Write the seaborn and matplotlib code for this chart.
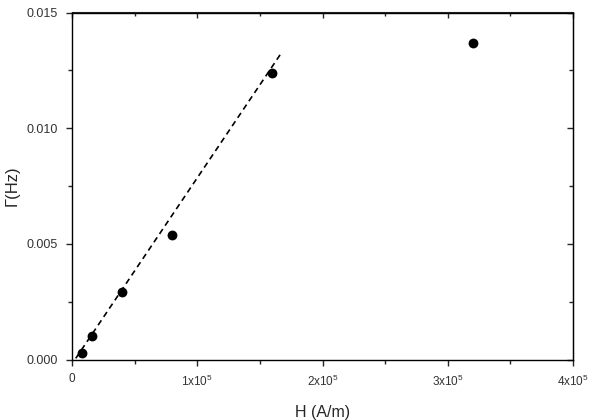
# Gamma vs H plot

import numpy as np
import pandas as pd
import matplotlib
matplotlib.use('Agg')
import matplotlib.pyplot as plt
from matplotlib.ticker import MultipleLocator
import seaborn as sns

sns.set_style("ticks")
plt.rcParams['font.family'] = ['Liberation Sans', 'DejaVu Sans']
plt.rcParams['mathtext.default'] = 'regular'

# Data
field_h = [8000, 16000, 40000, 80000, 160000, 320000]
gamma_hz = [0.00027, 0.00102, 0.00293, 0.00538, 0.01240, 0.01369]

# Linear fit endpoints (dashed line)
fit_h = [3000, 167000]
fit_gamma = [0.00005, 0.01324]

x_ticks = [0, 100000, 200000, 300000, 400000]
x_tick_labels = ['0', '1x10$^{5}$', '2x10$^{5}$', '3x10$^{5}$', '4x10$^{5}$']
y_ticks = [0.000, 0.005, 0.010, 0.015]
y_tick_labels = ['0.000', '0.005', '0.010', '0.015']

df_points = pd.DataFrame({'H': field_h, 'Gamma': gamma_hz})
df_fit = pd.DataFrame({'H': fit_h, 'Gamma': fit_gamma})

fig = plt.figure(figsize=(5.92, 4.2), dpi=100)
ax = fig.add_axes([72/592, 1 - 359.5/420, (573 - 72)/592, (359.5 - 12.5)/420])

sns.lineplot(data=df_fit, x='H', y='Gamma', ax=ax, color='black',
             linestyle=(0, (3.5, 2.5)), linewidth=1.2)
sns.scatterplot(data=df_points, x='H', y='Gamma', ax=ax, color='black',
                s=50, edgecolor='black', linewidth=0, zorder=3)

ax.set_xlim(0, 400000)
ax.set_ylim(0, 0.015)
ax.set_xticks(x_ticks)
ax.set_xticklabels(x_tick_labels, fontsize=8.5, color='#333333')
ax.set_yticks(y_ticks)
ax.set_yticklabels(y_tick_labels, fontsize=9, color='#333333')
ax.xaxis.set_minor_locator(MultipleLocator(50000))
ax.yaxis.set_minor_locator(MultipleLocator(0.0025))

ax.set_xlabel('H (A/m)', fontsize=11.5, labelpad=12)
ax.set_ylabel('Γ(Hz)', fontsize=12, labelpad=5)

for side in ['top', 'right', 'bottom', 'left']:
    ax.spines[side].set_visible(True)
    ax.spines[side].set_linewidth(1.0)
    ax.spines[side].set_color('black')

ax.tick_params(axis='both', which='major', direction='out', length=4, width=1, pad=6)
ax.tick_params(axis='both', which='minor', direction='out', length=3, width=1)

# Mirror ticks pointing inwards on top and right
ax_top = ax.secondary_xaxis('top')
ax_top.set_xticks(x_ticks)
ax_top.xaxis.set_minor_locator(MultipleLocator(50000))
ax_top.tick_params(which='major', direction='in', length=4, width=1, labeltop=False)
ax_top.tick_params(which='minor', direction='in', length=3, width=1)
ax_right = ax.secondary_yaxis('right')
ax_right.set_yticks(y_ticks)
ax_right.yaxis.set_minor_locator(MultipleLocator(0.0025))
ax_right.tick_params(which='major', direction='in', length=4, width=1, labelright=False)
ax_right.tick_params(which='minor', direction='in', length=3, width=1)

fig.savefig('out.png', dpi=100)
